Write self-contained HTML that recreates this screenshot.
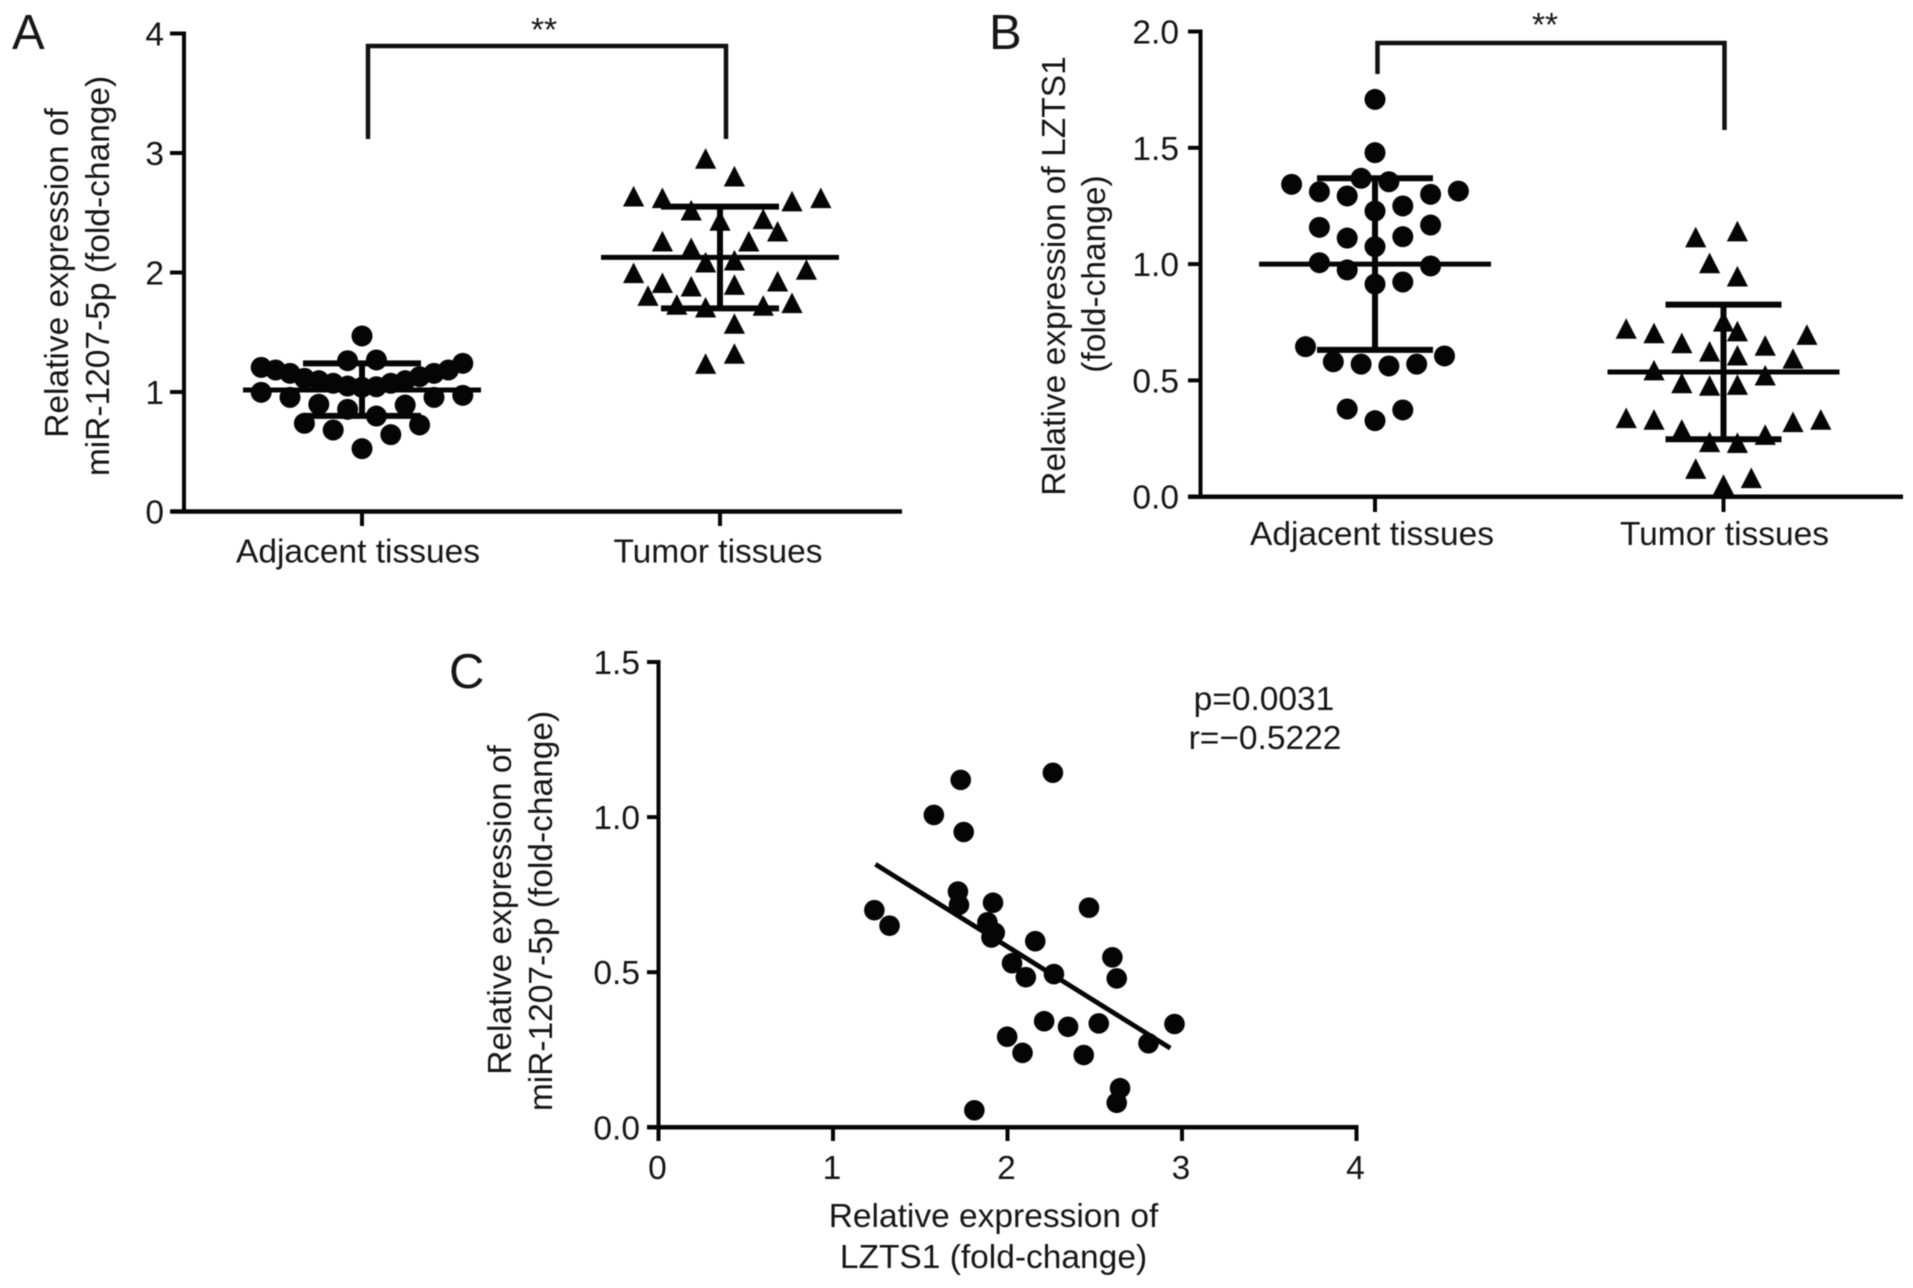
<!DOCTYPE html>
<html lang="en">
<head>
<meta charset="utf-8">
<title>miR-1207-5p and LZTS1 expression</title>
<style>
html,body{margin:0;padding:0;background:#fff;}
svg{display:block;filter:blur(0.5px);}
text{font-family:"Liberation Sans",Arial,sans-serif;font-size:33.5px;fill:#161616;}
.panel-letter{font-size:49px;}
</style>
</head>
<body>
<svg id="figure" xmlns="http://www.w3.org/2000/svg" width="1913" height="1288" viewBox="0 0 1913 1288">
  <rect width="1913" height="1288" fill="#fff"/>

  <g id="panel-a">
    <text class="panel-letter" x="12" y="49">A</text>
    <text text-anchor="middle" transform="translate(68 273) rotate(-90)">Relative expression of</text>
    <text text-anchor="middle" xml:space="preserve" transform="translate(109 276) rotate(-90)">miR-1207-5p (fold-change)</text>
    <path d="M368 139V46H726V139" fill="none" stroke="#111" stroke-width="4.5"/>
    <text text-anchor="middle" x="544" y="41">**</text>
  </g>

  <g id="panel-b">
    <text class="panel-letter" x="989" y="49">B</text>
    <text text-anchor="middle" transform="translate(1065 276) rotate(-90)">Relative expression of LZTS1</text>
    <text text-anchor="middle" transform="translate(1105 274) rotate(-90)">(fold-change)</text>
    <path d="M1380 74V43H1727V130" fill="none" stroke="#111" stroke-width="4.5" transform="translate(-2.5 0)"/>
    <text text-anchor="middle" x="1545" y="36">**</text>
  </g>

  <g id="panel-c">
    <text class="panel-letter" x="449" y="688">C</text>
    <text text-anchor="middle" transform="translate(511 910) rotate(-90)">Relative expression of</text>
    <text text-anchor="middle" transform="translate(552 911) rotate(-90)">miR-1207-5p (fold-change)</text>
    <text text-anchor="middle" x="993.5" y="1227">Relative expression of</text>
    <text text-anchor="middle" x="993.5" y="1268">LZTS1 (fold-change)</text>
    <text text-anchor="middle" x="1264" y="710">p=0.0031</text>
    <text text-anchor="middle" x="1265" y="749">r=−0.5222</text>
  </g>
</svg>

<script>
// Category and tick labels
const categories = ['Adjacent tissues', 'Tumor tissues'];
const ticksA = [0, 1, 2, 3, 4];
const tickLabelsA = ['0', '1', '2', '3', '4'];
const ticksB = [0, 0.5, 1, 1.5, 2];
const tickLabelsB = ['0.0', '0.5', '1.0', '1.5', '2.0'];
const ticksCY = [0, 0.5, 1, 1.5];
const tickLabelsCY = ['0.0', '0.5', '1.0', '1.5'];
const ticksCX = [0, 1, 2, 3, 4];
const tickLabelsCX = ['0', '1', '2', '3', '4'];

// Panel A: miR-1207-5p
const adjacentValuesA = [1.469,1.262,1.268,1.206,1.184,1.156,1.114,1.095,1.073,1.05,1.24,1.184,1.156,1.128,1.095,1.073,1.044,0.997,0.955,0.897,0.855,0.799,0.891,0.955,0.972,0.738,0.682,0.526,0.643,0.724,1.039];
const adjacentLanesA = [0,-1,1,-7,-6,-5,-4,-3,-2,-1,7,6,5,4,3,2,1,-7,-5,-3,-1,1,3,5,7,-4,-2,0,2,4,0];
const adjacentSummaryA = [1.017, 1.24, 0.80];
const tumorValuesA = [2.95,2.802,2.634,2.621,2.517,2.593,2.621,2.431,2.445,2.341,2.258,2.203,2.258,2.082,2.099,1.993,2.021,1.91,1.881,1.895,1.923,1.803,1.728,1.705,1.72,1.742,1.569,1.318,1.234];
const tumorLanesA = [-1,1,-6,-4,-2,5,7,0,3,4,-4,-2,2,-1,1,-6,6,-4,-2,1,4,-5,-3,-1,3,5,1,1,-1];
const tumorSummaryA = [2.127, 2.551, 1.70];

// Panel B: LZTS1
const adjacentValuesB = [1.708,1.479,1.343,1.311,1.293,1.369,1.354,1.3,1.314,1.25,1.228,1.158,1.112,1.118,1.168,1.075,1.006,0.975,0.992,0.914,0.923,0.645,0.58,0.57,0.562,0.57,0.605,0.377,0.327,0.373];
const adjacentLanesB = [0,0,-6,-4,-2,-1,1,4,6,2,0,-4,-2,2,4,0,-4,-2,4,0,2,-5,-3,-1,1,3,5,-2,0,2];
const adjacentSummaryB = [1.0, 1.369, 0.631];
const tumorValuesB = [1.114,1.14,1.003,0.946,0.752,0.71,0.721,0.702,0.659,0.623,0.606,0.648,0.695,0.592,0.542,0.52,0.487,0.476,0.48,0.337,0.33,0.287,0.32,0.33,0.265,0.234,0.23,0.119,0.05,0.079];
const tumorLanesB = [-2,1,-1,1,0,1,-7,-5,-3,-1,1,3,6,5,-5,3,-3,-1,1,-7,-5,-3,5,7,3,-1,1,-2,0,2];
const tumorSummaryB = [0.536, 0.826, 0.247];

// Panel C: correlation
const lztsValues = [1.732,2.26,1.578,1.749,1.716,1.722,1.917,2.467,1.237,1.324,1.885,1.927,1.908,2.159,2.601,2.026,2.105,2.266,2.626,2.21,2.347,2.523,2.957,1.998,2.086,2.437,2.808,2.645,2.626,1.81];
const mirValues = [1.12,1.143,1.007,0.952,0.76,0.717,0.724,0.708,0.7,0.65,0.661,0.627,0.612,0.6,0.548,0.529,0.484,0.494,0.48,0.342,0.324,0.335,0.333,0.292,0.24,0.233,0.271,0.126,0.079,0.055];
const fitX = [1.243, 2.933];
const fitY = [0.848, 0.255];

// Axis functions
const yA = v => 511.5 - v * 119.5;
const catA = i => 362 + i * 358;
const laneA = n => n * 14.4;
const yB = v => 496.7 - v * 232.6;
const catB = i => 1375 + i * 348.5;
const laneB = n => n * 13.9;
const yC = v => 1127.3 - v * 310.2;
const xC = v => 658.5 + v * 174.5;

const NS = 'http://www.w3.org/2000/svg';
const INK = '#050505';

function make(parent, tag, props) {
  const el = document.createElementNS(NS, tag);
  for (const k in props) el.setAttribute(k, props[k]);
  parent.appendChild(el);
  return el;
}

function line(parent, x1, y1, x2, y2, w) {
  return make(parent, 'line', {x1: x1, y1: y1, x2: x2, y2: y2, stroke: INK, 'stroke-width': w});
}

function drawYAxis(parent, prefix, ticks, labels, yFn, axisX, tickX, labelX) {
  const axis = line(parent, axisX, yFn(ticks[ticks.length - 1]) - 2, axisX, yFn(ticks[0]) + 2, 4);
  
  
  ticks.forEach((t, i) => {
    const tick = line(parent, tickX, yFn(t), axisX, yFn(t), 4);
    
    
    const label = make(parent, 'text', {x: labelX, y: yFn(t) + 12, 'text-anchor': 'end'});
    label.textContent = labels[i];
    
    
  });
}

function drawCategoryAxis(parent, prefix, yFn, catFn, x1, x2, tickBottom, labelY, labelOffsets) {
  const axis = line(parent, x1, yFn(0), x2, yFn(0), 4.5);
  
  
  categories.forEach((c, i) => {
    const tick = line(parent, catFn(i), yFn(0), catFn(i), tickBottom, 4);
    
    
    const label = make(parent, 'text', {x: catFn(i) + labelOffsets[i], y: labelY, 'text-anchor': 'middle'});
    label.textContent = c;
    
    
  });
}

function drawCircles(parent, prefix, values, lanes, cx, laneFn, yFn) {
  values.forEach((v, i) => {
    const m = make(parent, 'circle', {cx: cx + laneFn(lanes[i]), cy: yFn(v), r: 10.5, fill: INK});
    
    
  });
}

function drawTriangles(parent, prefix, values, lanes, cx, laneFn, yFn) {
  values.forEach((v, i) => {
    const x = cx + laneFn(lanes[i]);
    const y = yFn(v);
    const pts = [[x, y - 10.8], [x + 10.6, y + 9.8], [x - 10.6, y + 9.8]].map(p => p.join(',')).join(' ');
    const m = make(parent, 'polygon', {points: pts, fill: INK});
    
    
  });
}

function drawSummary(parent, prefix, summary, cx, yFn, meanHalf, capHalf) {
  const mean = line(parent, cx - meanHalf, yFn(summary[0]), cx + meanHalf, yFn(summary[0]), 5);
  
  
  const stem = line(parent, cx, yFn(summary[1]), cx, yFn(summary[2]), 6);
  
  
  const top = line(parent, cx - capHalf, yFn(summary[1]), cx + capHalf, yFn(summary[1]), 6);
  
  
  const bottom = line(parent, cx - capHalf, yFn(summary[2]), cx + capHalf, yFn(summary[2]), 6);
  
  
}

// Panel A
const panelA = document.getElementById('panel-a');
drawYAxis(panelA, 'panel-a', ticksA, tickLabelsA, yA, 184, 170, 164);
drawCategoryAxis(panelA, 'panel-a', yA, catA, 171, 902, 526, 562.5, [-4, -2]);
drawCircles(panelA, 'panel-a-adjacent', adjacentValuesA, adjacentLanesA, catA(0), laneA, yA);
drawSummary(panelA, 'panel-a-adjacent', adjacentSummaryA, catA(0), yA, 119, 59);
drawTriangles(panelA, 'panel-a-tumor', tumorValuesA, tumorLanesA, catA(1), laneA, yA);
drawSummary(panelA, 'panel-a-tumor', tumorSummaryA, catA(1), yA, 119, 59);

// Panel B
const panelB = document.getElementById('panel-b');
drawYAxis(panelB, 'panel-b', ticksB, tickLabelsB, yB, 1200.5, 1188, 1179);
drawCategoryAxis(panelB, 'panel-b', yB, catB, 1188, 1903, 512, 545, [-3, 1]);
drawCircles(panelB, 'panel-b-adjacent', adjacentValuesB, adjacentLanesB, catB(0), laneB, yB);
drawSummary(panelB, 'panel-b-adjacent', adjacentSummaryB, catB(0), yB, 116, 58);
drawTriangles(panelB, 'panel-b-tumor', tumorValuesB, tumorLanesB, catB(1), laneB, yB);
drawSummary(panelB, 'panel-b-tumor', tumorSummaryB, catB(1), yB, 116, 58);

// Panel C
const panelC = document.getElementById('panel-c');
drawYAxis(panelC, 'panel-c', ticksCY, tickLabelsCY, yC, xC(0), 647, 640);
const xAxisC = line(panelC, 647, yC(0), xC(4) + 2, yC(0), 4.5);


ticksCX.forEach((t, i) => {
  const tick = line(panelC, xC(t), yC(0), xC(t), 1141, 4);
  
  
  const label = make(panelC, 'text', {x: xC(t) - 1, y: 1179, 'text-anchor': 'middle'});
  label.textContent = tickLabelsCX[i];
  
  
});
lztsValues.forEach((v, i) => {
  const m = make(panelC, 'circle', {cx: xC(v), cy: yC(mirValues[i]), r: 10.3, fill: INK});
  
  
});
const fit = line(panelC, xC(fitX[0]), yC(fitY[0]), xC(fitX[1]), yC(fitY[1]), 4.8);


</script>
</body>
</html>
